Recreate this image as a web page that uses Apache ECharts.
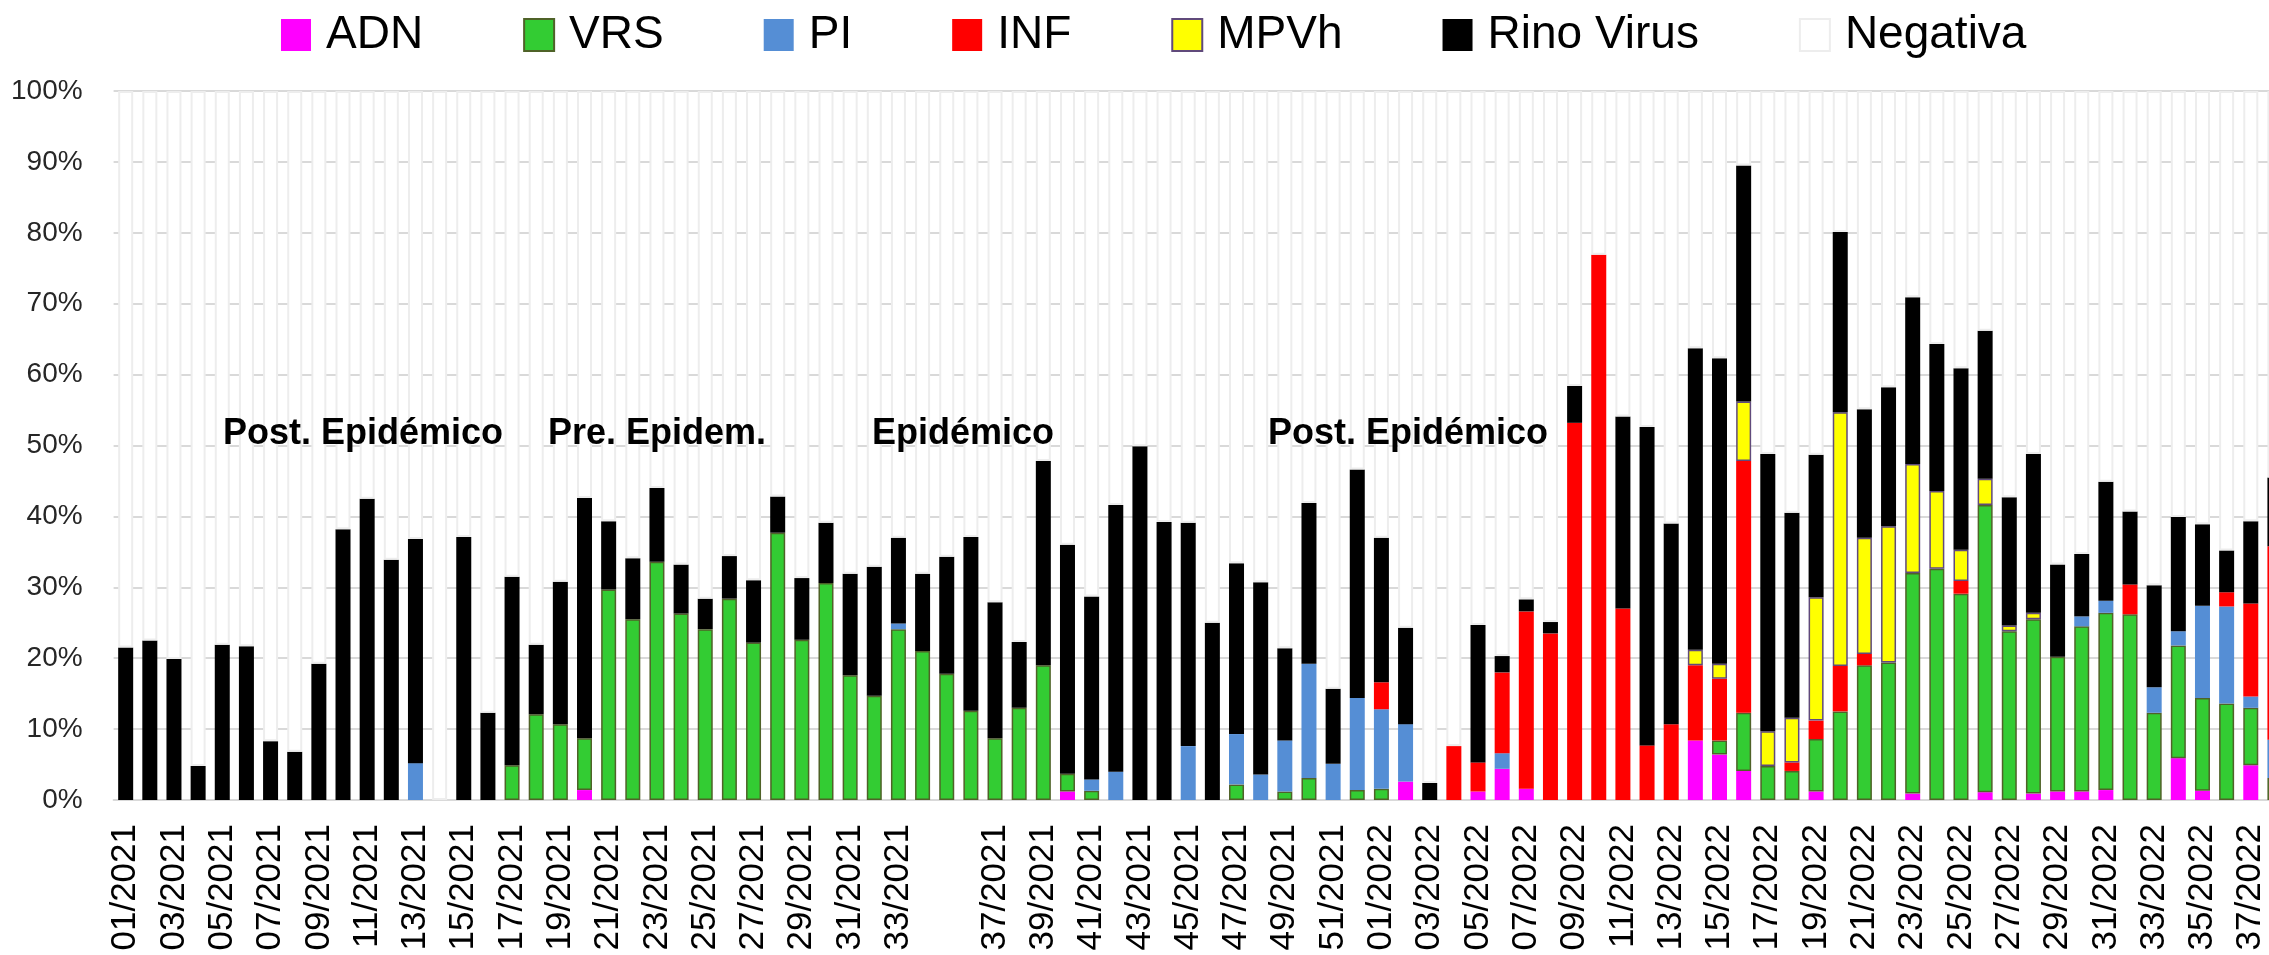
<!DOCTYPE html>
<html>
<head>
<meta charset="utf-8">
<title>Virus respiratorios por semana</title>
<script src="https://cdn.jsdelivr.net/npm/echarts@6/dist/echarts.min.js"></script>
<style>
  html, body { margin: 0; padding: 0; background: #fff; }
  #chart { width: 2269px; height: 955px; }
</style>
</head>
<body>
<div id="chart"></div>
<script>
// semanas epidemiológicas (la etiqueta de la 35/2021 no aparece en el original)
const weeks = [
  '01/2021', '02/2021', '03/2021', '04/2021', '05/2021', '06/2021', '07/2021', '08/2021', '09/2021', '10/2021',
  '11/2021', '12/2021', '13/2021', '14/2021', '15/2021', '16/2021', '17/2021', '18/2021', '19/2021', '20/2021',
  '21/2021', '22/2021', '23/2021', '24/2021', '25/2021', '26/2021', '27/2021', '28/2021', '29/2021', '30/2021',
  '31/2021', '32/2021', '33/2021', '34/2021', '', '36/2021', '37/2021', '38/2021', '39/2021', '40/2021',
  '41/2021', '42/2021', '43/2021', '44/2021', '45/2021', '46/2021', '47/2021', '48/2021', '49/2021', '50/2021',
  '51/2021', '52/2021', '01/2022', '02/2022', '03/2022', '04/2022', '05/2022', '06/2022', '07/2022', '08/2022',
  '09/2022', '10/2022', '11/2022', '12/2022', '13/2022', '14/2022', '15/2022', '16/2022', '17/2022', '18/2022',
  '19/2022', '20/2022', '21/2022', '22/2022', '23/2022', '24/2022', '25/2022', '26/2022', '27/2022', '28/2022',
  '29/2022', '30/2022', '31/2022', '32/2022', '33/2022', '34/2022', '35/2022', '36/2022', '37/2022', '38/2022'
]

// % de muestras por virus
const adn = [
  0, 0, 0, 0, 0, 0, 0, 0, 0, 0,
  0, 0, 0, 0, 0, 0, 0, 0, 0, 1.4,
  0, 0, 0, 0, 0, 0, 0, 0, 0, 0,
  0, 0, 0, 0, 0, 0, 0, 0, 0, 1.2,
  0, 0, 0, 0, 0, 0, 0, 0, 0, 0,
  0, 0, 0, 2.6, 0, 0, 1.2, 4.4, 1.6, 0,
  0, 0, 0, 0, 0, 8.4, 6.4, 4.1, 0, 0,
  1.2, 0, 0, 0, 0.9, 0, 0, 1.1, 0, 0.9,
  1.2, 1.2, 1.4, 0, 0, 5.9, 1.3, 0, 4.9, 0
]
const vrs = [
  0, 0, 0, 0, 0, 0, 0, 0, 0, 0,
  0, 0, 0, 0, 0, 0, 4.9, 12.1, 10.7, 7.3,
  29.7, 25.5, 33.6, 26.3, 24.1, 28.4, 22.2, 37.7, 22.6, 30.6,
  17.6, 14.7, 24.1, 21.0, 17.8, 12.6, 8.7, 13.0, 19.0, 2.5,
  1.3, 0, 0, 0, 0, 0, 2.2, 0, 1.2, 3.1,
  0, 1.4, 1.6, 0, 0, 0, 0, 0, 0, 0,
  0, 0, 0, 0, 0, 0, 2.0, 8.2, 4.8, 4.1,
  7.4, 12.5, 19.0, 19.4, 31.1, 32.6, 29.1, 40.5, 23.8, 24.6,
  19.0, 23.3, 25.0, 26.2, 12.3, 15.9, 13.1, 13.6, 8.1, 3.1
]
const pi = [
  0, 0, 0, 0, 0, 0, 0, 0, 0, 0,
  0, 0, 5.2, 0, 0, 0, 0, 0, 0, 0,
  0, 0, 0, 0, 0, 0, 0, 0, 0, 0,
  0, 0, 0.8, 0, 0, 0, 0, 0, 0, 0,
  1.6, 4.0, 0, 0, 7.6, 0, 7.1, 3.6, 7.2, 16.1,
  5.1, 13.0, 11.2, 8.1, 0, 0, 0, 2.2, 0, 0,
  0, 0, 0, 0, 0, 0, 0, 0, 0, 0,
  0, 0, 0, 0, 0, 0, 0, 0, 0, 0,
  0, 1.4, 1.7, 0, 3.6, 2.0, 13.0, 13.7, 1.6, 5.4
]
const inf = [
  0, 0, 0, 0, 0, 0, 0, 0, 0, 0,
  0, 0, 0, 0, 0, 0, 0, 0, 0, 0,
  0, 0, 0, 0, 0, 0, 0, 0, 0, 0,
  0, 0, 0, 0, 0, 0, 0, 0, 0, 0,
  0, 0, 0, 0, 0, 0, 0, 0, 0, 0,
  0, 0, 3.8, 0, 0, 7.6, 4.1, 11.4, 25.0, 23.5,
  53.2, 76.9, 27.0, 7.7, 10.7, 10.6, 8.7, 35.5, 0, 1.2,
  2.6, 6.4, 1.6, 0, 0, 0, 1.8, 0, 0, 0,
  0, 0, 0, 4.2, 0, 0, 0, 2.0, 13.1, 27.3
]
const mpvh = [
  0, 0, 0, 0, 0, 0, 0, 0, 0, 0,
  0, 0, 0, 0, 0, 0, 0, 0, 0, 0,
  0, 0, 0, 0, 0, 0, 0, 0, 0, 0,
  0, 0, 0, 0, 0, 0, 0, 0, 0, 0,
  0, 0, 0, 0, 0, 0, 0, 0, 0, 0,
  0, 0, 0, 0, 0, 0, 0, 0, 0, 0,
  0, 0, 0, 0, 0, 2.2, 2.1, 8.4, 4.9, 6.3,
  17.4, 35.8, 16.4, 19.2, 15.4, 11.0, 4.4, 3.7, 0.8, 0.9,
  0, 0, 0, 0, 0, 0, 0, 0, 0, 0
]
const rino = [
  21.5, 22.5, 19.9, 4.8, 21.9, 21.7, 8.3, 6.8, 19.2, 38.2,
  42.5, 33.9, 31.6, 0, 37.1, 12.3, 26.6, 9.8, 20.1, 33.9,
  9.6, 8.6, 10.4, 6.9, 4.3, 6.0, 8.8, 5.1, 8.7, 8.5,
  14.3, 18.2, 12.1, 10.9, 16.5, 24.5, 19.2, 9.3, 28.8, 32.3,
  25.8, 37.6, 49.9, 39.2, 31.5, 25.0, 24.1, 27.1, 13.0, 22.7,
  10.6, 32.2, 20.4, 13.6, 2.4, 0, 19.4, 2.3, 1.7, 1.6,
  5.2, 0, 27.1, 44.9, 28.3, 42.5, 43.1, 33.3, 39.1, 28.9,
  20.1, 25.4, 18.1, 19.6, 23.5, 20.7, 25.6, 20.9, 18.1, 22.4,
  13.0, 8.8, 16.8, 10.3, 14.4, 16.1, 11.5, 5.9, 11.6, 9.7
]
const negativa = [
  78.5, 77.5, 80.1, 95.2, 78.1, 78.3, 91.7, 93.2, 80.8, 61.8,
  57.5, 66.1, 63.2, 100, 62.9, 87.7, 68.5, 78.1, 69.2, 57.4,
  60.7, 65.9, 56.0, 66.8, 71.6, 65.6, 69.0, 57.2, 68.7, 60.9,
  68.1, 67.1, 63.0, 68.1, 65.7, 62.9, 72.1, 77.7, 52.2, 64.0,
  71.3, 58.4, 50.1, 60.8, 60.9, 75.0, 66.6, 69.3, 78.6, 58.1,
  84.3, 53.4, 63.0, 75.7, 97.6, 92.4, 75.3, 79.7, 71.7, 74.9,
  41.6, 23.1, 45.9, 47.4, 61.0, 36.3, 37.7, 10.5, 51.2, 59.5,
  51.3, 19.9, 44.9, 41.8, 29.1, 35.7, 39.1, 33.8, 57.3, 51.2,
  66.8, 65.3, 55.1, 59.3, 69.7, 60.1, 61.1, 64.8, 60.7, 54.5
]

// periodos anotados sobre el gráfico
const periodos = ['Post. Epidémico', 'Pre. Epidem.', 'Epidémico', 'Post. Epidémico']

const font = 'Liberation Sans'

function barSerie (name, data, itemStyle) {
  return {
    name: name,
    type: 'bar',
    stack: 'total',
    barWidth: 15,
    // los ceros no se dibujan (evita bordes sueltos en la base)
    data: data.map(v => (v === 0 ? null : v)),
    itemStyle: itemStyle
  }
}

const chart = echarts.init(document.getElementById('chart'))
const option = {
  backgroundColor: '#fff',
  animation: false,
  legend: {
    left: 276,
    top: 7,
    icon: 'rect',
    itemWidth: 30,
    itemHeight: 32,
    itemGap: 100,
    textStyle: {
      fontFamily: font,
      fontSize: 46,
      color: '#000',
      padding: [0, 0, 0, 10]
    }
  },
  grid: {
    left: 113.6,
    right: -18, // el original está cortado a la derecha
    top: 91,
    bottom: 155,
    containLabel: false,
    outerBoundsMode: 'none'
  },
  xAxis: {
    type: 'category',
    data: weeks,
    axisTick: { show: false },
    axisLine: { lineStyle: { color: '#D9D9D9', width: 2 } },
    axisLabel: {
      interval: 1,
      rotate: 90,
      margin: 24,
      fontFamily: font,
      fontSize: 35,
      color: '#000'
    }
  },
  yAxis: {
    type: 'value',
    min: 0,
    max: 100,
    interval: 10,
    axisLine: { show: false },
    axisTick: { show: false },
    splitLine: { lineStyle: { color: '#D9D9D9', width: 2 } },
    axisLabel: {
      formatter: '{value}%',
      margin: 31,
      fontFamily: font,
      fontSize: 28,
      color: '#262626'
    }
  },
  series: [
    barSerie('ADN', adn, { color: '#FF00FF' }),
    barSerie('VRS', vrs, { color: '#33CC33', borderColor: '#4F6228', borderWidth: 1.5 }),
    barSerie('PI', pi, { color: '#558ED5' }),
    barSerie('INF', inf, { color: '#FF0000' }),
    barSerie('MPVh', mpvh, { color: '#FFFF00', borderColor: '#604A7B', borderWidth: 1.5 }),
    barSerie('Rino Virus', rino, { color: '#000000' }),
    barSerie('Negativa', negativa, { color: '#FFFFFF', borderColor: '#EDEDED', borderWidth: 2 })
  ],
  graphic: [
    { x: 223, y: 434 },
    { x: 548, y: 434 },
    { x: 872, y: 434 },
    { x: 1268, y: 434 }
  ].map((pos, i) => ({
    type: 'text',
    x: pos.x,
    y: pos.y,
    z: 100,
    style: {
      text: periodos[i],
      fontFamily: font,
      fontWeight: 'bold',
      fontSize: 36,
      fill: '#000',
      verticalAlign: 'middle'
    }
  }))
}
chart.setOption(option)
</script>
</body>
</html>
